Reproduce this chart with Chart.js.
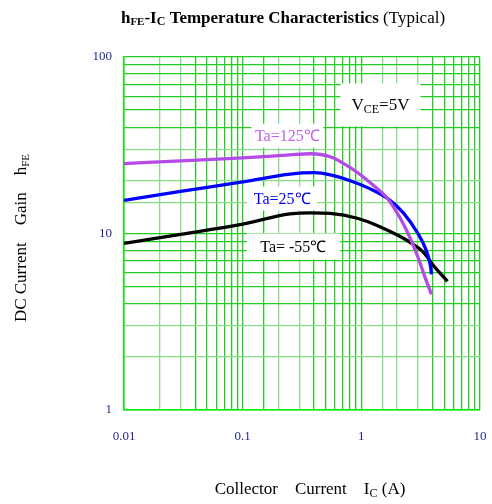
<!DOCTYPE html>
<html>
<head>
<meta charset="utf-8">
<script src="https://cdn.jsdelivr.net/npm/chart.js@4.4.1/dist/chart.umd.min.js"></script>
<style>
html,body{margin:0;padding:0;background:#fff;}
#wrap{width:492px;height:504px;position:relative;}
</style>
</head>
<body>
<div id="wrap"><canvas id="c" width="492" height="504"></canvas></div>
<script>
// ---- data ----
const xTickLabels = ["0.01", "0.1", "1", "10"];
const yTickLabels = ["1", "10", "100"];

const ic125 = [0.01, 0.03, 0.1, 0.25, 0.37, 0.547, 0.807, 1.19, 1.66, 2.13, 2.59, 3.03, 3.47, 3.90];
const hfe125 = [24.9, 25.8, 26.8, 27.9, 28.3, 27.2, 23.6, 19.4, 15.8, 12.2, 9.37, 7.22, 5.57, 4.52];

const ic25 = [0.01, 0.03, 0.1, 0.3, 0.4, 0.547, 0.807, 1.19, 1.66, 2.26, 2.97, 3.47, 3.82, 3.90];
const hfe25 = [15.4, 17.3, 19.6, 22.0, 22.1, 21.5, 19.9, 17.9, 15.8, 13.1, 10.1, 8.23, 6.59, 5.87];

const icM55 = [0.01, 0.03, 0.1, 0.25, 0.37, 0.547, 0.925, 1.45, 2.01, 2.59, 3.34, 4.05, 5.32];
const hfeM55 = [8.8, 9.9, 11.3, 12.9, 13.1, 13.0, 12.2, 10.9, 9.8, 8.89, 7.81, 6.59, 5.36];

const seriesNames = ["Ta=125℃", "Ta=25℃", "Ta= -55℃"];

function pts(xs, ys){ return xs.map((x,i)=>({x:x, y:ys[i]})); }
function mant(v){ const e = Math.floor(Math.log10(v)+1e-9); return Math.round(v/Math.pow(10,e)); }
function gridColor(ctx){
  const v = ctx.tick && ctx.tick.value;
  if(!v) return '#22cc22';
  const m = mant(v);
  if(m===2||m===3) return '#88dd88';
  return '#22cc22';
}

const SERIF = '"Liberation Serif", "Times New Roman", serif';

function drawRich(ctx, parts, x, y, align){
  let w = 0;
  parts.forEach(p=>{ ctx.font = p.f; p.w = ctx.measureText(p.t).width; w += p.w; });
  let cx = align==='center' ? x - w/2 : (align==='right' ? x - w : x);
  ctx.textBaseline = 'alphabetic';
  ctx.textAlign = 'left';
  parts.forEach(p=>{ ctx.font = p.f; ctx.fillStyle = p.c || '#000'; ctx.fillText(p.t, cx, y + (p.dy||0)); cx += p.w; });
  return w;
}

const textPlugin = {
  id:'texts',
  beforeDatasetsDraw(chart){
    const ctx = chart.ctx, xs = chart.scales.x, ys = chart.scales.y;
    ctx.save();
    // labels with white boxes (positions in data units)
    const labels = [
      {x:0.238, y:35.8, parts:[{t:'Ta=125℃', f:'16px '+SERIF, c:'#c060f0'}], bw:72, bh:24},
      {x:0.215, y:15.8, parts:[{t:'Ta=25℃', f:'16px '+SERIF, c:'#0000ee'}], bw:70, bh:24},
      {x:0.267, y:8.45, parts:[{t:'Ta= -55℃', f:'16px '+SERIF, c:'#000'}], bw:93, bh:26},
      {x:1.45, y:53.6, parts:[{t:'V', f:'17px '+SERIF},{t:'CE', f:'12px '+SERIF, dy:3},{t:'=5V', f:'17px '+SERIF}], bw:80, bh:43}
    ];
    labels.forEach(l=>{
      const px = xs.getPixelForValue(l.x), py = ys.getPixelForValue(l.y);
      ctx.fillStyle = '#fff';
      ctx.fillRect(px - l.bw/2, py - l.bh/2, l.bw, l.bh);
      drawRich(ctx, l.parts, px, py + 5.5, 'center');
    });
    ctx.restore();
  },
  afterDraw(chart){
    const ctx = chart.ctx;
    ctx.save();
    // title
    drawRich(ctx, [
      {t:'h', f:'bold 17px '+SERIF},
      {t:'FE', f:'bold 11px '+SERIF, dy:2},
      {t:'-I', f:'bold 17px '+SERIF},
      {t:'C', f:'bold 12px '+SERIF, dy:2},
      {t:' Temperature Characteristics', f:'bold 17px '+SERIF},
      {t:' (Typical)', f:'17px '+SERIF}
    ], 283, 23, 'center');
    // x axis title
    drawRich(ctx, [
      {t:'Collector    Current    I', f:'17px '+SERIF},
      {t:'C', f:'12px '+SERIF, dy:3},
      {t:' (A)', f:'17px '+SERIF}
    ], 310, 494, 'center');
    // y axis title
    ctx.translate(26, 238);
    ctx.rotate(-Math.PI/2);
    drawRich(ctx, [
      {t:'DC Current    Gain    h', f:'17px '+SERIF},
      {t:'FE', f:'11px '+SERIF, dy:3}
    ], 0, 0, 'center');
    ctx.restore();
  }
};

const mkDs = (label, data, color) => ({
  label, data, borderColor:color, backgroundColor:color, borderWidth:3.3,
  pointRadius:0, tension:0.4, cubicInterpolationMode:'monotone', fill:false
});

new Chart(document.getElementById('c'), {
  type:'line',
  data:{ datasets:[
    mkDs(seriesNames[0], pts(ic125, hfe125), '#b44ae8'),
    mkDs(seriesNames[1], pts(ic25, hfe25), '#0000ff'),
    mkDs(seriesNames[2], pts(icM55, hfeM55), '#000000')
  ]},
  options:{
    responsive:false, animation:false, devicePixelRatio:1,
    layout:{padding:{left:0, top:57, right:0, bottom:0}},
    plugins:{legend:{display:false}, title:{display:false}, tooltip:{enabled:false}},
    scales:{
      x:{
        type:'logarithmic', min:0.01, max:10,
        afterFit(s){ s.height = 94; s.paddingRight = 12; s.paddingLeft = 0; },
        grid:{color:gridColor, lineWidth:1.3, drawTicks:false},
        border:{color:'#00ee00', width:1.5},
        ticks:{
          padding:19, color:'#1f1f8f', font:{family:SERIF, size:13},
          autoSkip:false, maxRotation:0,
          callback(v){ const m = mant(v); if(m!==1) return ''; const s = xTickLabels.find(t=>Math.abs(parseFloat(t)-v)<1e-9*Math.max(1,v)); return s||''; }
        }
      },
      y:{
        type:'logarithmic', min:1, max:100,
        afterFit(s){ s.width = 124; s.paddingTop = 0; s.paddingBottom = 0; },
        grid:{color:gridColor, lineWidth:1.3, drawTicks:false},
        border:{color:'#00ee00', width:1.5},
        ticks:{
          padding:12, color:'#1f1f8f', font:{family:SERIF, size:13},
          autoSkip:false,
          callback(v){ const m = mant(v); if(m!==1) return ''; const s = yTickLabels.find(t=>Math.abs(parseFloat(t)-v)<1e-9*Math.max(1,v)); return s||''; }
        }
      }
    }
  },
  plugins:[textPlugin]
});
</script>
</body>
</html>
